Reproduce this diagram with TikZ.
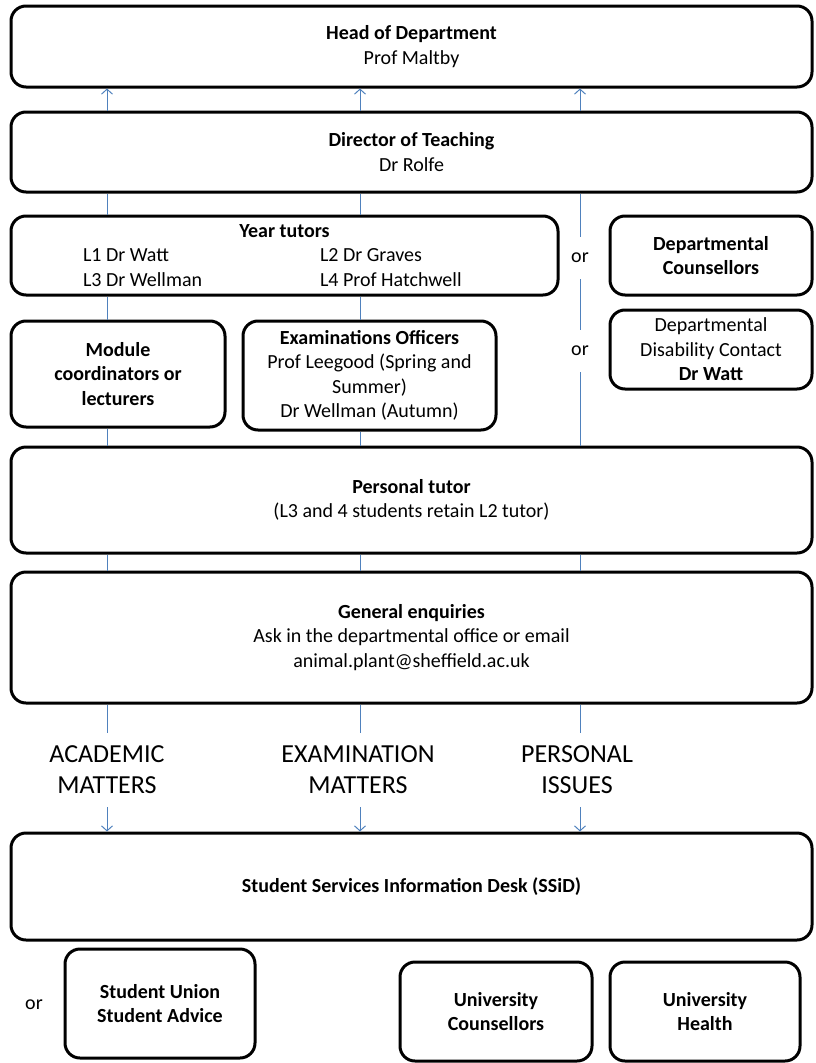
\documentclass[tikz,border=0pt]{standalone}
\usepackage{fontspec}
\setmainfont{Carlito}
\usetikzlibrary{arrows.meta}
\definecolor{linkblue}{RGB}{79,129,189}
\tikzset{
  font={\fontsize{20pt}{24.5pt}\selectfont}}

\begin{document}
\begin{tikzpicture}[x=1pt,y=1pt]
\tikzstyle{every node}+=[inner sep=0pt]
\tikzstyle{box}=[draw=black,line width=3pt,rounded corners=15pt,align=center,fill=white]
\tikzstyle{link}=[draw=linkblue,line width=1pt]
\tikzstyle{arr}=[link,-{Straight Barb[length=5pt,width=11pt]}]
\tikzstyle{orlabel}=[minimum height=42pt]
\tikzstyle{matters}=[align=center,font={\fontsize{26pt}{31pt}\selectfont},inner ysep=13pt]
\useasboundingbox (0,0) rectangle (815,-1063);
\coordinate (colA) at (107,0);
\coordinate (colB) at (360,0);
\coordinate (colC) at (580,0);
\node [box,minimum width=801pt,minimum height=81pt] (head) at (411.5,-46.5) {\textbf{Head of Department}\\Prof Maltby};
\node [box,minimum width=801pt,minimum height=80pt] (dot) at (411.5,-152) {\textbf{Director of Teaching}\\Dr Rolfe};
\node [box,minimum width=547pt,minimum height=79pt] (year) at (284.5,-255.5) {\textbf{Year tutors}\\
  \makebox[237pt][l]{L1 Dr Watt}\makebox[166pt][l]{L2 Dr Graves}\\
  \makebox[237pt][l]{L3 Dr Wellman}\makebox[166pt][l]{L4 Prof Hatchwell}};
\node [box,minimum width=202pt,minimum height=79pt] (dcoun) at (711,-255.5) {\textbf{Departmental}\\\textbf{Counsellors}};
\node [box,minimum width=214pt,minimum height=106pt] (module) at (118,-374) {\textbf{Module}\\\textbf{coordinators or}\\\textbf{lecturers}};
\node [box,minimum width=253pt,minimum height=109pt] (exam) at (369.5,-375.5) {\textbf{Examinations Officers}\\Prof Leegood (Spring and\\Summer)\\Dr Wellman (Autumn)};
\node [box,minimum width=202pt,minimum height=79pt] (disab) at (711,-349.5) {Departmental\\Disability Contact\\\textbf{Dr Watt}};
\node [box,minimum width=801pt,minimum height=106pt] (ptutor) at (411.5,-500) {\textbf{Personal tutor}\\(L3 and 4 students retain L2 tutor)};
\node [box,minimum width=801pt,minimum height=131pt] (gen) at (411.5,-637.5) {\textbf{General enquiries}\\Ask in the departmental office or email\\animal.plant@sheffield.ac.uk};
\node [box,minimum width=801pt,minimum height=107pt] (ssid) at (411.5,-886.5) {\textbf{Student Services Information Desk (SSiD)}};
\node [box,minimum width=190pt,minimum height=109pt] (union) at (160,-1003.5) {\textbf{Student Union}\\\textbf{Student Advice}};
\node [box,minimum width=192pt,minimum height=99pt] (ucoun) at (496,-1011.5) {\textbf{University}\\\textbf{Counsellors}};
\node [box,minimum width=190pt,minimum height=99pt] (uhealth) at (705,-1011.5) {\textbf{University}\\\textbf{Health}};
\node [orlabel] (or1) at (580,-258) {or};
\node [orlabel] (or2) at (580,-351) {or};
\node (or3) at (34,-1005) {or};
\node [matters] (acad) at (107,-770) {ACADEMIC\\MATTERS};
\node [matters] (exmat) at (358,-770) {EXAMINATION\\MATTERS};
\node [matters] (pers) at (577,-770) {PERSONAL\\ISSUES};
\draw [arr] (dot.north -| colA) -- (head.south -| colA);
\draw [arr] (dot.north -| colB) -- (head.south -| colB);
\draw [arr] (dot.north -| colC) -- (head.south -| colC);
\draw [link] (year.north -| colA) -- (dot.south -| colA);
\draw [link] (year.north -| colB) -- (dot.south -| colB);
\draw [link] (dot.south -| colC) -- (or1);
\draw [link] (or1) -- (or2);
\draw [link] (or2) -- (ptutor.north -| colC);
\draw [link] (year.south -| colA) -- (module.north -| colA);
\draw [link] (year.south -| colB) -- (exam.north -| colB);
\draw [link] (module.south -| colA) -- (ptutor.north -| colA);
\draw [link] (exam.south -| colB) -- (ptutor.north -| colB);
\draw [link] (ptutor.south -| colA) -- (gen.north -| colA);
\draw [link] (ptutor.south -| colB) -- (gen.north -| colB);
\draw [link] (ptutor.south -| colC) -- (gen.north -| colC);
\draw [link] (gen.south -| colA) -- (acad.north -| colA);
\draw [link] (gen.south -| colB) -- (exmat.north -| colB);
\draw [link] (gen.south -| colC) -- (pers.north -| colC);
\draw [arr] (acad.south -| colA) -- (ssid.north -| colA);
\draw [arr] (exmat.south -| colB) -- (ssid.north -| colB);
\draw [arr] (pers.south -| colC) -- (ssid.north -| colC);
\end{tikzpicture}
\end{document}
